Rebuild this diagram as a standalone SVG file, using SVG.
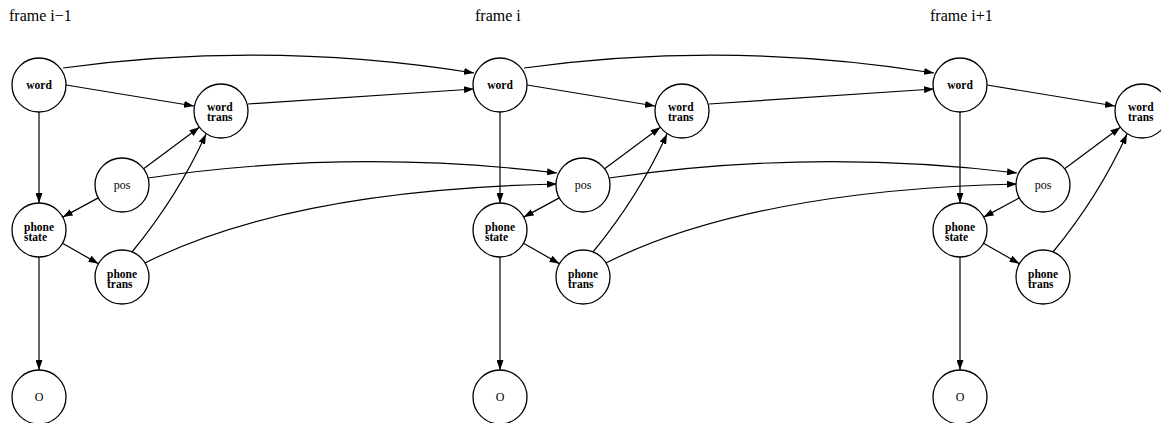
<svg xmlns="http://www.w3.org/2000/svg" width="1161" height="423" viewBox="0 0 1161 423">
<style>
.n{fill:#fff;stroke:#000;stroke-width:1.3}
.e{fill:none;stroke:#000;stroke-width:1.2;marker-end:url(#ah)}
.t{font-family:"Liberation Serif","Times New Roman",serif;font-size:11.5px;font-weight:bold;fill:#000}
.r{font-family:"Liberation Serif","Times New Roman",serif;font-size:12px;fill:#000}
.f{font-family:"Liberation Serif","Times New Roman",serif;font-size:16px;fill:#000}
</style>
<defs>
<marker id="ah" markerUnits="userSpaceOnUse" markerWidth="10" markerHeight="7" refX="10" refY="3.5" orient="auto">
<path d="M0,0 L10,3.5 L0,7 Z" fill="#000"/>
</marker>
</defs>
<rect width="1161" height="423" fill="#fff"/>
<g id="labels">
<text class="f" x="9" y="21">frame i−1</text>
<text class="f" x="475" y="21">frame i</text>
<text class="f" x="930" y="21">frame i+1</text>
</g>
<g id="connectors">
<!-- frame i-1 -->
<path class="e" d="M66,85 L194,106"/>
<path class="e" d="M39,112 L39,203"/>
<path class="e" d="M143.6,168.8 L199.4,127.2"/>
<path class="e" d="M98.3,197.9 L62.7,217.1"/>
<path class="e" d="M62.5,243.3 L98.5,263.7"/>
<path class="e" d="M132,252 Q178,196 206,134"/>
<path class="e" d="M39,257 L39,370"/>
<!-- frame i -->
<path class="e" d="M527,85 L655,106"/>
<path class="e" d="M500,112 L500,203"/>
<path class="e" d="M604.6,168.8 L660.4,127.2"/>
<path class="e" d="M559.3,197.9 L523.7,217.1"/>
<path class="e" d="M523.5,243.3 L559.5,263.7"/>
<path class="e" d="M593,252 Q639,196 667,134"/>
<path class="e" d="M500,257 L500,370"/>
<!-- frame i+1 -->
<path class="e" d="M987,85 L1115,106"/>
<path class="e" d="M960,112 L960,203"/>
<path class="e" d="M1064.6,168.8 L1120.4,127.2"/>
<path class="e" d="M1019.3,197.9 L983.7,217.1"/>
<path class="e" d="M983.5,243.3 L1019.5,263.7"/>
<path class="e" d="M1053,252 Q1099,196 1127,134"/>
<path class="e" d="M960,257 L960,370"/>
<!-- i-1 to i -->
<path class="e" d="M63,68 Q268,40 474,73"/>
<path class="e" d="M248,104 L474,89"/>
<path class="e" d="M148,178 Q352,148 557,173"/>
<path class="e" d="M145,263 C240,215 380,188 557,184"/>
<!-- i to i+1 -->
<path class="e" d="M524,68 Q729,40 934,73"/>
<path class="e" d="M709,104 L934,89"/>
<path class="e" d="M609,178 Q813,148 1017,173"/>
<path class="e" d="M606,263 C701,215 841,188 1017,184"/>
</g>
<!-- frame i-1 nodes -->
<g id="word_1"><circle class="n" cx="39" cy="85" r="27"/><text class="t" x="39" y="89" text-anchor="middle">word</text></g>
<g id="wordtrans_1"><circle class="n" cx="221" cy="111" r="27"/><text class="t" x="207" y="111">word</text><text class="t" x="207" y="121">trans</text></g>
<g id="pos_1"><circle class="n" cx="122" cy="185" r="27"/><text class="r" x="122" y="189" text-anchor="middle">pos</text></g>
<g id="phonestate_1"><circle class="n" cx="39" cy="230" r="27"/><text class="t" x="24" y="231">phone</text><text class="t" x="24" y="241">state</text></g>
<g id="phonetrans_1"><circle class="n" cx="122" cy="277" r="27"/><text class="t" x="107" y="278">phone</text><text class="t" x="107" y="288">trans</text></g>
<g id="o_1"><circle class="n" cx="39" cy="397" r="27"/><text class="r" x="39" y="401" text-anchor="middle">O</text></g>
<!-- frame i nodes -->
<g id="word_2"><circle class="n" cx="500" cy="85" r="27"/><text class="t" x="500" y="89" text-anchor="middle">word</text></g>
<g id="wordtrans_2"><circle class="n" cx="682" cy="111" r="27"/><text class="t" x="668" y="111">word</text><text class="t" x="668" y="121">trans</text></g>
<g id="pos_2"><circle class="n" cx="583" cy="185" r="27"/><text class="r" x="583" y="189" text-anchor="middle">pos</text></g>
<g id="phonestate_2"><circle class="n" cx="500" cy="230" r="27"/><text class="t" x="485" y="231">phone</text><text class="t" x="485" y="241">state</text></g>
<g id="phonetrans_2"><circle class="n" cx="583" cy="277" r="27"/><text class="t" x="568" y="278">phone</text><text class="t" x="568" y="288">trans</text></g>
<g id="o_2"><circle class="n" cx="500" cy="397" r="27"/><text class="r" x="500" y="401" text-anchor="middle">O</text></g>
<!-- frame i+1 nodes -->
<g id="word_3"><circle class="n" cx="960" cy="85" r="27"/><text class="t" x="960" y="89" text-anchor="middle">word</text></g>
<g id="wordtrans_3"><circle class="n" cx="1142" cy="111" r="27"/><text class="t" x="1128" y="111">word</text><text class="t" x="1128" y="121">trans</text></g>
<g id="pos_3"><circle class="n" cx="1043" cy="185" r="27"/><text class="r" x="1043" y="189" text-anchor="middle">pos</text></g>
<g id="phonestate_3"><circle class="n" cx="960" cy="230" r="27"/><text class="t" x="945" y="231">phone</text><text class="t" x="945" y="241">state</text></g>
<g id="phonetrans_3"><circle class="n" cx="1043" cy="277" r="27"/><text class="t" x="1028" y="278">phone</text><text class="t" x="1028" y="288">trans</text></g>
<g id="o_3"><circle class="n" cx="960" cy="397" r="27"/><text class="r" x="960" y="401" text-anchor="middle">O</text></g>
</svg>
